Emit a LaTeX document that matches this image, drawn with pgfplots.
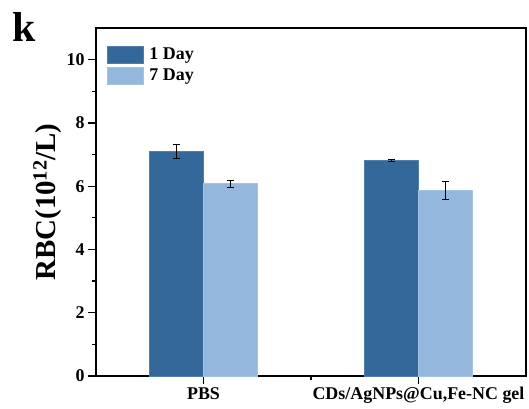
\documentclass[border=0pt]{standalone}
\usepackage{pgfplots}
\pgfplotsset{compat=1.18}
\usepackage{fontspec}
\setmainfont{Liberation Serif}

\definecolor{dayone}{HTML}{34689B}
\definecolor{dayseven}{HTML}{94B8DD}

\begin{document}
\begin{tikzpicture}
\begin{axis}[
    scale only axis,
    width=430bp, height=348bp,
    ybar=0pt,
    bar width=54bp,
    xmin=-0.5, xmax=1.5,
    ymin=0, ymax=11,
    xtick={0,1},
    xticklabels={PBS, {CDs/AgNPs@Cu,Fe-NC gel}},
    minor xtick={0.5},
    ytick={0,2,4,6,8,10},
    minor ytick={1,3,5,7,9},
    tick align=outside,
    tick pos=left,
    major tick length=8bp,
    minor tick length=4bp,
    axis line style={line width=1.5bp},
    every tick/.style={black, line width=1.2bp},
    /pgf/number format/assume math mode=true,
    tick label style={font=\bfseries\fontsize{18}{18}\selectfont},
    ylabel={RBC(10\textsuperscript{12}/L)},
    ylabel style={font=\bfseries\fontsize{29}{29}\selectfont, yshift=-2bp},
    legend style={at={(rel axis cs:0.024,0.95)}, anchor=north west, draw=none,
        fill=none, font=\bfseries\fontsize{18}{18}\selectfont,
        row sep=4bp, inner sep=0pt},
    legend image code/.code={\fill[#1] (0bp,-8.5bp) rectangle (36bp,8.5bp);},
    legend cell align=left,
    clip=false,
    error bars/error bar style={black, line width=0.6bp},
    error bars/error mark options={rotate=90, black, mark size=3.5bp, line width=0.6bp},
]
\addplot[fill=dayone, draw=dayone!85!white, error bars/.cd, y dir=both, y explicit]
    coordinates {(0,7.10) +- (0,0.22) (1,6.82) +- (0,0.02)};
\addplot[fill=dayseven, draw=dayseven!85!white, error bars/.cd, y dir=both, y explicit]
    coordinates {(0,6.08) +- (0,0.11) (1,5.87) +- (0,0.29)};
\legend{\ 1 Day, \ 7 Day}
\node[anchor=base west, font=\bfseries\fontsize{42}{42}\selectfont, inner sep=0pt]
    at ([xshift=-84bp, yshift=-14bp]rel axis cs:0,1) {k};
\coordinate (bl) at (rel axis cs:0,0);
\coordinate (tr) at (rel axis cs:1,1);
\end{axis}
\path ([xshift=-96bp, yshift=-33bp]bl) rectangle ([xshift=3bp, yshift=28bp]tr);
\end{tikzpicture}
\end{document}
